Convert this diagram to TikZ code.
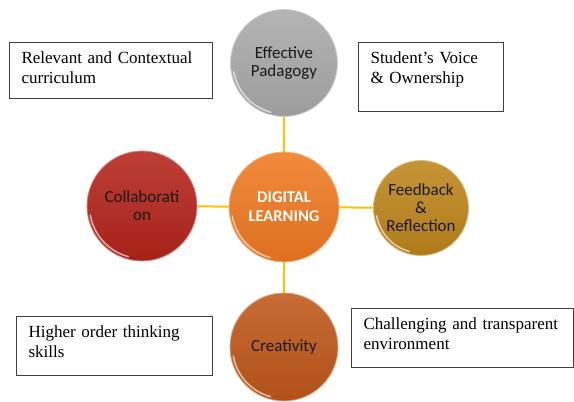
\documentclass[tikz,border=0pt]{standalone}
\usepackage{fontspec}
\setmainfont{Liberation Serif}
\newfontfamily\bubblefont{Carlito}
\definecolor{spokeyellow}{HTML}{FFC000}
\definecolor{pedgray}{HTML}{AAAAAA}
\definecolor{digorange}{HTML}{F07A22}
\definecolor{colred}{HTML}{B4251B}
\definecolor{feegold}{HTML}{BE861C}
\definecolor{creburnt}{HTML}{BF581A}
\begin{document}
\begin{tikzpicture}[x=1pt, y=1pt,
  bubble/.style 2 args={circle, minimum size=#1, inner sep=0pt, align=center,
    top color=#2!88!white, bottom color=#2!92!black, draw=#2!55!white, line width=0.8pt,
    text=black!90, font=\bubblefont\fontsize{17}{18}\selectfont},
  textbox/.style={draw=black!75, line width=1.1pt, anchor=north west, align=left,
    inner xsep=12pt, inner ysep=7pt, text height=14pt, font=\fontsize{17}{20}\selectfont},
  spoke/.style={draw=spokeyellow, line width=2pt}]
\useasboundingbox (0,0) rectangle (574,402);

% the five bubbles
\node (ped) [bubble={107pt}{pedgray}] at (284,339) {Effective\\Padagogy};
\node (dig) [bubble={110pt}{digorange}, text=white, font=\bubblefont\bfseries\fontsize{16.5}{19}\selectfont] at (284,195) {DIGITAL\\LEARNING};
\node (col) [bubble={110pt}{colred}] at (142,196) {Collaborati\\on};
\node (fee) [bubble={95pt}{feegold}] at (421,194) {Feedback\\\&\\Reflection};
\node (cre) [bubble={108pt}{creburnt}] at (284,55) {Creativity};

% gloss on the lower left rim
\foreach \n/\r in {ped/51, dig/52.5, col/52.5, fee/45, cre/51.5}
  \draw [white, opacity=0.6, line width=1.6pt, line cap=round]
    ([shift={(190:\r)}]\n.center) arc[start angle=190, end angle=255, radius=\r];

% spokes
\draw [spoke] (dig) -- (ped);
\draw [spoke] (dig) -- (col);
\draw [spoke] (dig) -- (fee);
\draw [spoke] (dig) -- (cre);

% text boxes
\node (rel) [textbox, text width=179pt, text depth=28pt] at (9,360) {Relevant and Contextual\\curriculum};
\node (stud) [textbox, text width=121pt, text depth=41pt] at (358,360) {Student’s Voice\\\& Ownership};
\node (high) [textbox, text width=172pt, text depth=31pt] at (16,86) {Higher order thinking\\skills};
\node (chal) [textbox, text width=198pt, text depth=31pt] at (351,94) {Challenging and transparent\\environment};
\end{tikzpicture}
\end{document}
